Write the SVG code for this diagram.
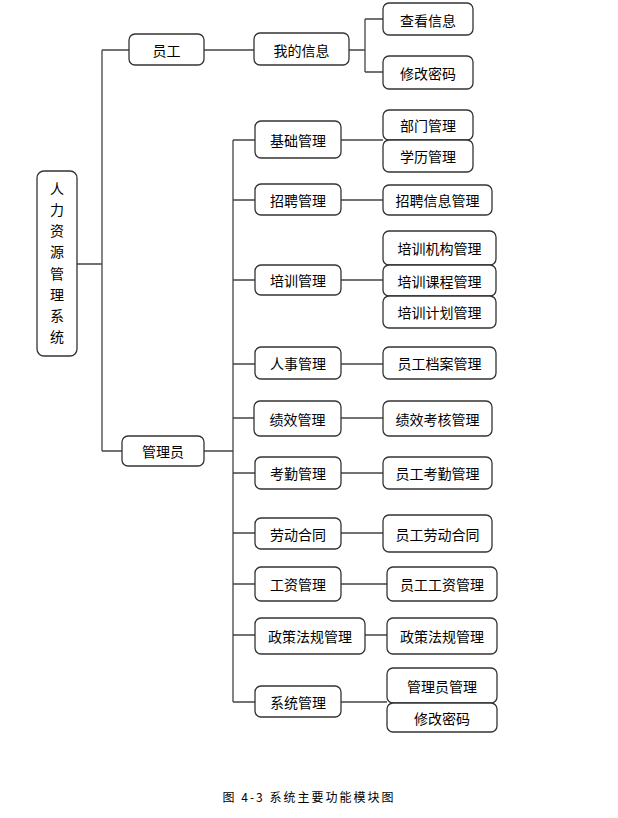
<svg xmlns="http://www.w3.org/2000/svg" width="618" height="818" viewBox="0 0 618 818">
<style>
rect.n{fill:#fff;stroke:#333;stroke-width:1.3}
text{font-family:"Noto Sans CJK SC","Liberation Sans",sans-serif;font-size:14px;fill:#000;text-anchor:middle;dominant-baseline:central}
.c path{fill:none;stroke:#444;stroke-width:1.3}
text.cap{font-size:12px;letter-spacing:2px}
</style>
<rect width="618" height="818" fill="#fff"/>
<g class="c" id="connectors">
<path d="M77 264H102M102 50V451M102 50H129M102 451H122"/>
<path d="M204 50H254M349 50H365M365 19V72M365 19H383M365 72H383"/>
<path d="M204 451H233M233 140V702"/>
<path d="M233 140H255M341 140H383"/>
<path d="M233 200H255M341 200H383"/>
<path d="M233 280H255M341 280H383"/>
<path d="M233 364H255M341 364H383"/>
<path d="M233 418H254M341 418H383"/>
<path d="M233 473H255M341 473H383"/>
<path d="M233 533H255M341 533H383"/>
<path d="M233 584H255M341 584H387"/>
<path d="M233 635H255M365 635H387"/>
<path d="M233 702H255M341 702H387"/>
</g>
<g id="root"><rect class="n" x="37" y="171" width="40" height="185" rx="7"/>
<text x="57" y="188">人</text><text x="57" y="209">力</text><text x="57" y="230">资</text><text x="57" y="251">源</text><text x="57" y="273">管</text><text x="57" y="294">理</text><text x="57" y="315">系</text><text x="57" y="336">统</text></g>
<g id="yuangong"><rect class="n" x="129" y="34" width="75" height="31" rx="6"/><text x="166.5" y="50">员工</text></g>
<g id="wodexinxi"><rect class="n" x="254" y="33" width="95" height="32" rx="6"/><text x="301.5" y="49.5">我的信息</text></g>
<g id="chakan"><rect class="n" x="383" y="3" width="90" height="32" rx="6"/><text x="428" y="19.5">查看信息</text></g>
<g id="xiugai1"><rect class="n" x="383" y="56" width="90" height="33" rx="6"/><text x="428" y="72.5">修改密码</text></g>
<g id="guanliyuan"><rect class="n" x="122" y="436" width="82" height="30" rx="6"/><text x="163" y="451">管理员</text></g>
<g id="jichu"><rect class="n" x="255" y="121" width="86" height="37" rx="6"/><text x="298" y="139.5">基础管理</text></g>
<g id="bumen"><rect class="n" x="383" y="110" width="90" height="30" rx="6"/><text x="428" y="125">部门管理</text></g>
<g id="xueli"><rect class="n" x="383" y="140" width="90" height="32" rx="6"/><text x="428" y="156">学历管理</text></g>
<g id="zhaopin"><rect class="n" x="255" y="184" width="86" height="31" rx="6"/><text x="298" y="199.5">招聘管理</text></g>
<g id="zhaopinxinxi"><rect class="n" x="383" y="185" width="109" height="30" rx="6"/><text x="437.5" y="200">招聘信息管理</text></g>
<g id="peixun"><rect class="n" x="255" y="265" width="86" height="30" rx="6"/><text x="298" y="280">培训管理</text></g>
<g id="jigou"><rect class="n" x="383" y="231" width="113" height="34" rx="6"/><text x="439.5" y="248">培训机构管理</text></g>
<g id="kecheng"><rect class="n" x="383" y="265" width="113" height="31" rx="6"/><text x="439.5" y="280.5">培训课程管理</text></g>
<g id="jihua"><rect class="n" x="383" y="296" width="113" height="32" rx="6"/><text x="439.5" y="312">培训计划管理</text></g>
<g id="renshi"><rect class="n" x="255" y="347" width="86" height="32" rx="6"/><text x="298" y="363">人事管理</text></g>
<g id="dangan"><rect class="n" x="383" y="347" width="113" height="32" rx="6"/><text x="439.5" y="363">员工档案管理</text></g>
<g id="jixiao"><rect class="n" x="254" y="401" width="87" height="35" rx="6"/><text x="297.5" y="418.5">绩效管理</text></g>
<g id="kaohe"><rect class="n" x="383" y="401" width="109" height="35" rx="6"/><text x="437.5" y="418.5">绩效考核管理</text></g>
<g id="kaoqin"><rect class="n" x="255" y="457" width="86" height="32" rx="6"/><text x="298" y="473">考勤管理</text></g>
<g id="yuangongkaoqin"><rect class="n" x="383" y="457" width="109" height="32" rx="6"/><text x="437.5" y="473">员工考勤管理</text></g>
<g id="laodong"><rect class="n" x="255" y="518" width="86" height="31" rx="6"/><text x="298" y="533.5">劳动合同</text></g>
<g id="yuangonglaodong"><rect class="n" x="383" y="515" width="109" height="37" rx="6"/><text x="437.5" y="533.5">员工劳动合同</text></g>
<g id="gongzi"><rect class="n" x="255" y="567" width="86" height="34" rx="6"/><text x="298" y="584">工资管理</text></g>
<g id="yuangonggongzi"><rect class="n" x="387" y="567" width="110" height="34" rx="6"/><text x="442" y="584">员工工资管理</text></g>
<g id="zhengce"><rect class="n" x="255" y="618" width="110" height="36" rx="6"/><text x="310" y="636">政策法规管理</text></g>
<g id="zhengce2"><rect class="n" x="387" y="618" width="110" height="36" rx="6"/><text x="442" y="636">政策法规管理</text></g>
<g id="xitong"><rect class="n" x="255" y="686" width="86" height="31" rx="6"/><text x="298" y="701.5">系统管理</text></g>
<g id="gly"><rect class="n" x="387" y="668" width="110" height="35" rx="6"/><text x="442" y="685.5">管理员管理</text></g>
<g id="xiugai2"><rect class="n" x="387" y="703" width="110" height="29" rx="6"/><text x="442" y="717.5">修改密码</text></g>
<text class="cap" x="309" y="796">图 4-3 系统主要功能模块图</text>
</svg>
